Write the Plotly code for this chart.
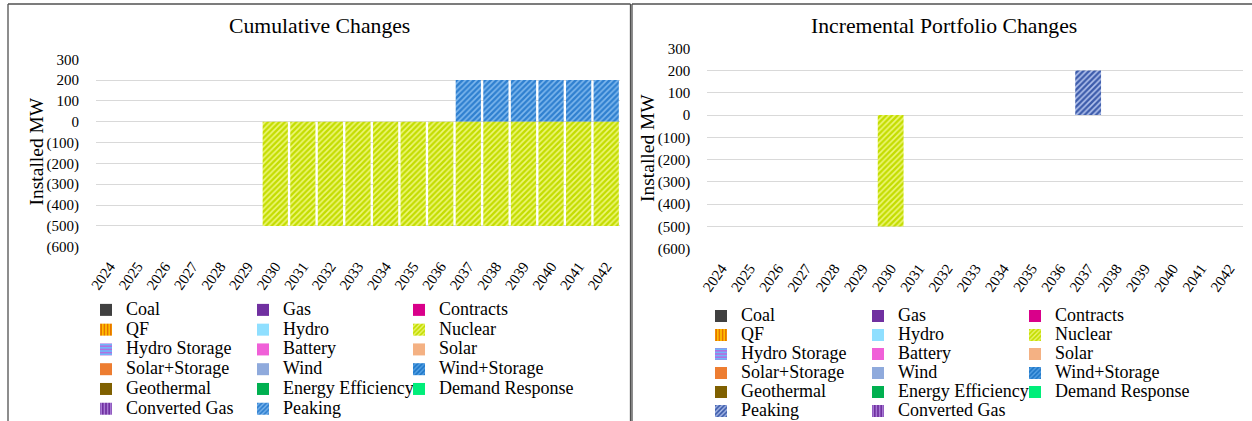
import plotly.graph_objects as go

W, H = 1252, 421
FONT = "Liberation Serif"

# ---------------- data ----------------
years = ["2024", "2025", "2026", "2027", "2028", "2029", "2030", "2031", "2032", "2033",
         "2034", "2035", "2036", "2037", "2038", "2039", "2040", "2041", "2042"]

y_tick_values = [300, 200, 100, 0, -100, -200, -300, -400, -500, -600]
y_tick_labels = ["300", "200", "100", "0", "(100)", "(200)", "(300)", "(400)", "(500)", "(600)"]

zero_series = [0, 0, 0, 0, 0, 0, 0, 0, 0, 0, 0, 0, 0, 0, 0, 0, 0, 0, 0]

cum_nuclear = [0, 0, 0, 0, 0, 0, -500, -500, -500, -500, -500, -500, -500, -500, -500, -500, -500, -500, -500]
cum_peaking = [0, 0, 0, 0, 0, 0, 0, 0, 0, 0, 0, 0, 0, 200, 200, 200, 200, 200, 200]

inc_nuclear = [0, 0, 0, 0, 0, 0, -500, 0, 0, 0, 0, 0, 0, 0, 0, 0, 0, 0, 0]
inc_peaking = [0, 0, 0, 0, 0, 0, 0, 0, 0, 0, 0, 0, 0, 200, 0, 0, 0, 0, 0]

cum_values = {"Nuclear": cum_nuclear, "Peaking": cum_peaking}
inc_values = {"Nuclear": inc_nuclear, "Peaking": inc_peaking}

# legend columns (row-major reading matches the reference)
cum_columns = [
    ["Coal", "QF", "Hydro Storage", "Solar+Storage", "Geothermal", "Converted Gas"],
    ["Gas", "Hydro", "Battery", "Wind", "Energy Efficiency", "Peaking"],
    ["Contracts", "Nuclear", "Solar", "Wind+Storage", "Demand Response"],
]
inc_columns = [
    ["Coal", "QF", "Hydro Storage", "Solar+Storage", "Geothermal", "Peaking"],
    ["Gas", "Hydro", "Battery", "Wind", "Energy Efficiency", "Converted Gas"],
    ["Contracts", "Nuclear", "Solar", "Wind+Storage", "Demand Response"],
]

# ---------------- styles ----------------
# name: (background colour, pattern shape or "", pattern foreground colour)
styles = {
    "Coal": ("#404040", "", None),
    "Gas": ("#7030a0", "", None),
    "Contracts": ("#d9008a", "", None),
    "QF": ("#ffc000", "|", "#e06000"),
    "Hydro": ("#8fdfff", "", None),
    "Nuclear": ("#c4dd00", "/", "#eef77a"),
    "Hydro Storage": ("#b070e0", "-", "#60c8ff"),
    "Battery": ("#f060d8", "", None),
    "Solar": ("#f4b183", "", None),
    "Solar+Storage": ("#ed7d31", "", None),
    "Wind": ("#8faadc", "", None),
    "Wind+Storage": ("#1f78c8", "/", "#5aa5e8"),
    "Geothermal": ("#7f6000", "", None),
    "Energy Efficiency": ("#00b050", "", None),
    "Demand Response": ("#00ee7a", "", None),
    "Converted Gas": ("#7030a0", "|", "#b48ae0"),
}
peaking_styles = {
    "cum": ("#2f80d0", "/", "#7fb8ee"),
    "inc": ("#3d5cab", "/", "#b3c3ee"),
}


def marker_for(style):
    bg, shape, fg = style
    if shape:
        return dict(color=bg, line=dict(width=0),
                    pattern=dict(shape=shape, bgcolor=bg, fgcolor=fg, size=4,
                                 solidity=0.4, fillmode="replace"))
    return dict(color=bg, line=dict(width=0))


fig = go.Figure()

panels = [
    ("cum", cum_columns, cum_values, "x", "y", ["legend", "legend2", "legend3"]),
    ("inc", inc_columns, inc_values, "x2", "y2", ["legend4", "legend5", "legend6"]),
]
for key, columns, values, xa, ya, legends in panels:
    for col, legend_id in zip(columns, legends):
        for name in col:
            style = peaking_styles[key] if name == "Peaking" else styles[name]
            fig.add_trace(go.Bar(
                x=years, y=values.get(name, zero_series),
                name='<span style="font-size:18px">' + name + '</span>',
                xaxis=xa, yaxis=ya, legend=legend_id,
                marker=marker_for(style), hoverinfo="x+y",
            ))

# ---------------- layout ----------------
def px_x(v):
    return v / W


def px_y(v):
    return 1 - v / H


tick_font = dict(family=FONT, size=15, color="black")
xtick_font = dict(family=FONT, size=15, color="black")

yaxis_common = dict(
    range=[-600, 300], tickmode="array", tickvals=y_tick_values, ticktext=y_tick_labels,
    showgrid=True, gridcolor="#d9d9d9", gridwidth=1.3, zeroline=False, showline=False,
    ticks="", tickfont=tick_font, ticklabelstandoff=16,
)
xaxis_common = dict(
    type="category", tickangle=-55, tickfont=xtick_font, showgrid=False,
    zeroline=False, showline=False, ticks="", ticklabelstandoff=7,
)

fig.update_layout(
    width=W, height=H,
    margin=dict(l=0, r=0, t=0, b=0, autoexpand=False),
    paper_bgcolor="white", plot_bgcolor="white",
    barmode="relative", bargap=0.085,
    font=dict(family=FONT, color="black"),
    xaxis=dict(domain=[px_x(96), px_x(620)], anchor="y", **xaxis_common),
    yaxis=dict(domain=[px_y(246.7), px_y(59.3)], anchor="x", **yaxis_common),
    xaxis2=dict(domain=[px_x(707.3), px_x(1243.3)], anchor="y2", **xaxis_common),
    yaxis2=dict(domain=[px_y(248.7), px_y(48.3)], anchor="x2", **yaxis_common),
    showlegend=True,
)

legend_lefts = [86, 243, 399, 701, 858, 1015]
legend_tops = [295, 295, 295, 301.5, 301.5, 301.5]
legend_sizes = [12.9, 12.9, 12.9, 12.3, 12.3, 12.3]
for i, (lx, ly, fs) in enumerate(zip(legend_lefts, legend_tops, legend_sizes)):
    lid = "legend" if i == 0 else "legend%d" % (i + 1)
    fig.update_layout({lid: dict(
        orientation="v", traceorder="normal",
        xref="container", yref="container",
        x=lx / W, y=1 - ly / H, xanchor="left", yanchor="top",
        bgcolor="rgba(0,0,0,0)", borderwidth=0,
        font=dict(family=FONT, size=fs, color="black"),
        itemclick=False, itemdoubleclick=False,
    )})

title_font = dict(family=FONT, size=21.7, color="black")
fig.add_annotation(text="Cumulative Changes", x=px_x(319.3), y=px_y(26.5), xref="paper", yref="paper",
                   showarrow=False, xanchor="center", yanchor="middle", font=title_font)
fig.add_annotation(text="Incremental Portfolio Changes", x=px_x(944), y=px_y(26.5), xref="paper", yref="paper",
                   showarrow=False, xanchor="center", yanchor="middle", font=title_font)

axis_title_font = dict(family=FONT, size=19.5, color="black")
fig.add_annotation(text="Installed MW", x=px_x(35.5), y=px_y(152), xref="paper", yref="paper",
                   showarrow=False, textangle=-90, xanchor="center", yanchor="middle",
                   font=axis_title_font)
fig.add_annotation(text="Installed MW", x=px_x(647), y=px_y(148), xref="paper", yref="paper",
                   showarrow=False, textangle=-90, xanchor="center", yanchor="middle",
                   font=axis_title_font)

border = dict(color="#505050", width=1.3)
for x0, y0, x1, y1 in [(8, 4, 8, 430), (8, 4, 630.5, 4), (630.5, 4, 630.5, 430),
                       (632, 4, 632, 430), (632, 4, 1260, 4)]:
    fig.add_shape(type="line", xref="paper", yref="paper",
                  x0=px_x(x0), y0=px_y(y0), x1=px_x(x1), y1=px_y(y1), line=border)

fig.write_html("out.html", config={"displayModeBar": False},
               post_script="document.body.style.margin='0px';")
